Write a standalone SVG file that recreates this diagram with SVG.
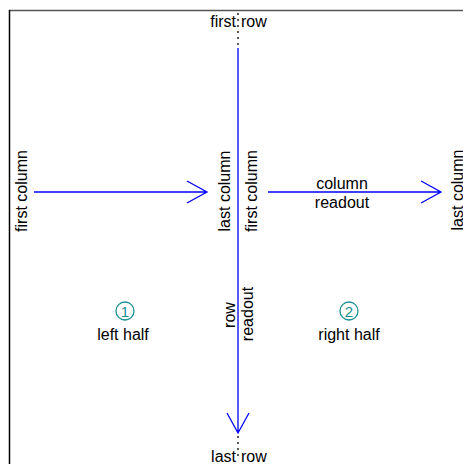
<svg xmlns="http://www.w3.org/2000/svg" width="463" height="464" viewBox="0 0 463 464">
<style>
text{font-family:"Liberation Sans",Arial,sans-serif;font-size:16px;fill:#000}
.arr{stroke:#0000ff;stroke-width:1.3;fill:none}
.dot{stroke:#000;stroke-width:1.3;stroke-dasharray:2 4;fill:none}
.num{fill:none;stroke:#1a9090;stroke-width:1.3}
.numt{fill:#1a9090;font-size:15px}
</style>
<rect width="463" height="464" fill="#fff"/>
<line x1="9" y1="10.5" x2="463" y2="10.5" stroke="#555" stroke-width="1.5"/>
<line x1="9.5" y1="10" x2="9.5" y2="464" stroke="#000" stroke-width="1.5"/>
<g id="connectors">
<line class="dot" x1="238" y1="13" x2="238" y2="48"/>
<line class="dot" x1="238" y1="436" x2="238" y2="456"/>
<path class="arr" d="M238 48V433M227 413L238 433L249 413"/>
<path class="arr" d="M34 192H207M187 181L207 192L187 203"/>
<path class="arr" d="M268 192H441M421 181L441 192L421 203"/>
</g>
<g id="labels">
<text x="236" y="27" text-anchor="end">first</text>
<text x="241" y="27">row</text>
<text x="236" y="462" text-anchor="end">last</text>
<text x="241" y="462">row</text>
<text transform="translate(27,191) rotate(-90)" text-anchor="middle">first column</text>
<text transform="translate(230,191) rotate(-90)" text-anchor="middle">last column</text>
<text transform="translate(257,191) rotate(-90)" text-anchor="middle">first column</text>
<text transform="translate(462.5,190) rotate(-90)" text-anchor="middle">last column</text>
<text x="342" y="189" text-anchor="middle">column</text>
<text x="342" y="208" text-anchor="middle">readout</text>
<text transform="translate(235,315) rotate(-90)" text-anchor="middle">row</text>
<text transform="translate(253,314) rotate(-90)" text-anchor="middle">readout</text>
</g>
<g id="left-half">
<circle class="num" cx="125" cy="311" r="9"/>
<text class="numt" x="125" y="316.5" text-anchor="middle">1</text>
<text x="123" y="340" text-anchor="middle">left half</text>
</g>
<g id="right-half">
<circle class="num" cx="349" cy="311" r="9"/>
<text class="numt" x="349" y="316.5" text-anchor="middle">2</text>
<text x="349" y="340" text-anchor="middle">right half</text>
</g>
</svg>
